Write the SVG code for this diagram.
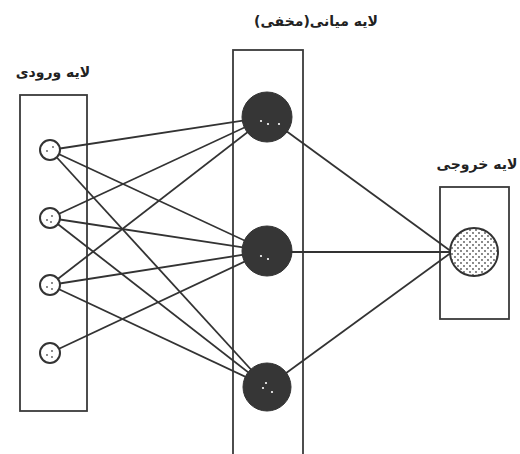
<svg xmlns="http://www.w3.org/2000/svg" width="520" height="454" viewBox="0 0 520 454">
<style>
.box{fill:none;stroke:#3a3a3a;stroke-width:1.8}
.edge{stroke:#333;stroke-width:1.8;fill:none}
.in{fill:#fff;stroke:#333;stroke-width:2}
.hid{fill:#363636;stroke:#333;stroke-width:1}
.out{fill:url(#dots);stroke:#333;stroke-width:2}
.dot{fill:#fff}
.dk{fill:#555}
.lbl{font-family:"DejaVu Sans",sans-serif;font-weight:bold;font-size:14px;fill:#222;text-anchor:middle}
</style>
<defs>
<pattern id="dots" width="6" height="6" patternUnits="userSpaceOnUse">
<rect width="6" height="6" fill="#fff"/>
<circle cx="2" cy="2" r="0.9" fill="#555"/>
<circle cx="5" cy="5" r="0.9" fill="#555"/>
</pattern>
</defs>
<g id="labels">
<text class="lbl" x="53" y="77" direction="rtl">لایه ورودی</text>
<text class="lbl" x="316" y="26" direction="rtl">لایه میانی(مخفی)</text>
<text class="lbl" x="477" y="169" direction="rtl">لایه خروجی</text>
</g>
<g id="boxes">
<rect id="input-layer" class="box" x="20" y="95" width="67" height="316"/>
<rect id="hidden-layer" class="box" x="233" y="50" width="70" height="410"/>
<rect id="output-layer" class="box" x="440" y="187" width="69" height="132"/>
</g>
<g id="connectors">
<line class="edge" x1="50" y1="150" x2="267" y2="117"/>
<line class="edge" x1="50" y1="150" x2="267" y2="251"/>
<line class="edge" x1="50" y1="150" x2="267" y2="387"/>
<line class="edge" x1="50" y1="218" x2="267" y2="117"/>
<line class="edge" x1="50" y1="218" x2="267" y2="251"/>
<line class="edge" x1="50" y1="218" x2="267" y2="387"/>
<line class="edge" x1="50" y1="285" x2="267" y2="117"/>
<line class="edge" x1="50" y1="285" x2="267" y2="251"/>
<line class="edge" x1="50" y1="285" x2="267" y2="387"/>
<line class="edge" x1="50" y1="353" x2="267" y2="251"/>
<line class="edge" x1="267" y1="117" x2="452" y2="252"/>
<line class="edge" x1="267" y1="252" x2="452" y2="252"/>
<line class="edge" x1="267" y1="387" x2="452" y2="252"/>
</g>
<g id="in1"><circle class="in" cx="50" cy="150" r="10"/><circle class="dk" cx="47" cy="151" r="0.9"/><circle class="dk" cx="53" cy="147" r="0.9"/></g>
<g id="in2"><circle class="in" cx="50" cy="218" r="10"/><circle class="dk" cx="47" cy="220" r="0.9"/><circle class="dk" cx="52" cy="216" r="0.9"/><circle class="dk" cx="51" cy="222" r="0.9"/></g>
<g id="in3"><circle class="in" cx="50" cy="285" r="10"/><circle class="dk" cx="47" cy="287" r="0.9"/><circle class="dk" cx="52" cy="283" r="0.9"/><circle class="dk" cx="52" cy="289" r="0.9"/></g>
<g id="in4"><circle class="in" cx="50" cy="353" r="10"/><circle class="dk" cx="47" cy="355" r="0.9"/><circle class="dk" cx="52" cy="351" r="0.9"/><circle class="dk" cx="52" cy="357" r="0.9"/></g>
<g id="h1"><circle class="hid" cx="267" cy="117" r="25"/><circle class="dot" cx="261" cy="121" r="1.1"/><circle class="dot" cx="268" cy="124" r="1.1"/><circle class="dot" cx="279" cy="124" r="1.1"/></g>
<g id="h2"><circle class="hid" cx="267" cy="251" r="25"/><circle class="dot" cx="261" cy="256" r="1.1"/><circle class="dot" cx="268" cy="259" r="1.1"/></g>
<g id="h3"><circle class="hid" cx="267" cy="387" r="24"/><circle class="dot" cx="263" cy="388" r="1.1"/><circle class="dot" cx="266" cy="383" r="1.1"/><circle class="dot" cx="272" cy="392" r="1.1"/></g>
<g id="out"><circle class="out" cx="474" cy="252" r="24"/></g>
</svg>
